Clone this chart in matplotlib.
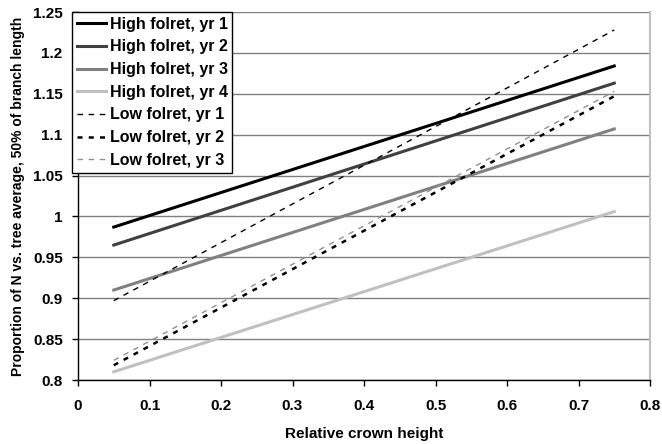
import numpy as np
import matplotlib
matplotlib.use("Agg")
import matplotlib.pyplot as plt

plt.rcParams['font.family'] = ['Liberation Sans', 'DejaVu Sans']
plt.rcParams['font.weight'] = 'bold'

# crown height endpoints of the fitted lines
x = [0.05, 0.75]

series_names = ["High folret, yr 1", "High folret, yr 2", "High folret, yr 3",
                "High folret, yr 4", "Low folret, yr 1", "Low folret, yr 2",
                "Low folret, yr 3"]
high_yr1 = [0.987, 1.184]
high_yr2 = [0.965, 1.163]
high_yr3 = [0.910, 1.107]
high_yr4 = [0.810, 1.006]
low_yr1 = [0.897, 1.228]
low_yr2 = [0.818, 1.147]
low_yr3 = [0.824, 1.153]

x_ticks = [0, 0.1, 0.2, 0.3, 0.4, 0.5, 0.6, 0.7, 0.8]
y_ticks = [0.8, 0.85, 0.9, 0.95, 1, 1.05, 1.1, 1.15, 1.2, 1.25]

fig = plt.figure(figsize=(6.62, 4.44), dpi=100)
ax = fig.add_axes([78/662, (444-380)/444, (650-78)/662, (380-12)/444])

for yv in y_ticks:
    ax.axhline(yv, color='#808080', lw=1.0, zorder=0)

ax.plot(x, high_yr1, color='black', lw=2.2, label=series_names[0])
ax.plot(x, high_yr2, color='#404040', lw=2.2, label=series_names[1])
ax.plot(x, high_yr3, color='#808080', lw=2.2, label=series_names[2])
ax.plot(x, high_yr4, color='#c0c0c0', lw=2.2, label=series_names[3])
ax.plot(x, low_yr1, color='black', lw=1.0, ls=(0, (4, 4)), label=series_names[4])
ax.plot(x, low_yr2, color='black', lw=1.8, ls=(0, (2, 2.5)), label=series_names[5])
ax.plot(x, low_yr3, color='#909090', lw=1.0, ls=(0, (4, 4)), label=series_names[6])

ax.set_xlim(0, 0.8)
ax.set_ylim(0.8, 1.25)
ax.set_xticks(x_ticks)
ax.set_xticklabels(['0', '0.1', '0.2', '0.3', '0.4', '0.5', '0.6', '0.7', '0.8'])
ax.set_yticks(y_ticks)
ax.set_yticklabels(['0.8', '0.85', '0.9', '0.95', '1', '1.05', '1.1', '1.15', '1.2', '1.25'])
ax.tick_params(axis='both', direction='out', length=4, width=1, labelsize=11)
ax.tick_params(axis='y', pad=7)
ax.tick_params(axis='x', pad=10)

ax.spines['top'].set_visible(False)
ax.spines['right'].set_color('#c0c0c0')
ax.spines['right'].set_linewidth(1.5)
ax.spines['left'].set_linewidth(1.0)
ax.spines['bottom'].set_linewidth(1.0)

ax.set_xlabel("Relative crown height", fontsize=11, fontweight='bold', labelpad=10)
ax.set_ylabel("Proportion of N vs. tree average, 50% of branch length",
              fontsize=10, fontweight='bold', labelpad=6)

leg = ax.legend(loc='upper left', bbox_to_anchor=(72/662, 1 - 12/444),
                bbox_transform=fig.transFigure, fontsize=11.5, frameon=True,
                fancybox=False, edgecolor='black', framealpha=1,
                handlelength=1.8, handletextpad=0.25, borderpad=0.3,
                labelspacing=0.48, borderaxespad=0)
leg.get_frame().set_linewidth(1.0)

fig.savefig("out.png", dpi=100)
